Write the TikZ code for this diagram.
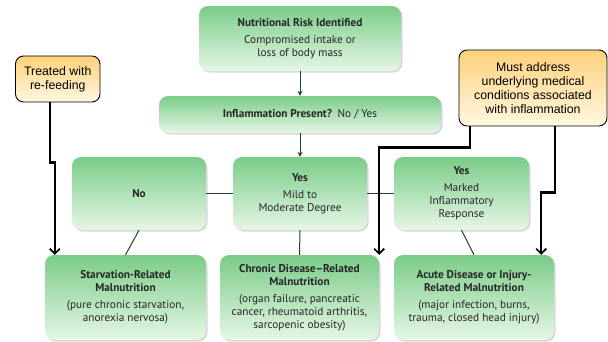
\documentclass[tikz,border=0pt]{standalone}
\usepackage{fontspec}
\setmainfont{Liberation Sans}
\newfontfamily\boxfont{PT Sans}
\usetikzlibrary{shadows, arrows.meta}
\definecolor{boxtop}{RGB}{122,204,136}
\definecolor{boxbottom}{RGB}{230,246,230}
\definecolor{notetop}{RGB}{253,210,122}
\definecolor{notebottom}{RGB}{255,247,226}
\definecolor{linkgreen}{RGB}{28,66,38}

\begin{document}
\begin{tikzpicture}[x=1pt, y=-1pt,
    stage/.style={rectangle, rounded corners=9pt, top color=boxtop, bottom color=boxbottom, drop shadow={shadow xshift=1.5pt, shadow yshift=-1.5pt, opacity=0.3}, text=black!85, align=center, font=\boxfont\fontsize{11.3}{13}\selectfont, inner sep=1pt},
    note/.style={rectangle, rounded corners=8pt, draw=black, line width=0.9pt, top color=notetop, bottom color=notebottom, align=center, font=\fontsize{12.3}{14}\selectfont, inner sep=1pt},
    link/.style={draw=linkgreen, line width=1pt},
    callarrow/.style={line width=2.2pt, line join=miter, -{Straight Barb[length=5pt, width=10pt, line width=1.6pt]}}]
        \useasboundingbox (0,0) rectangle (608,341);

        % --- SCREENING ---
        \node (risk) at (300,38.5) [stage, minimum width=202pt, minimum height=65pt] {\textbf{Nutritional Risk Identified}\\[4pt] Compromised intake or\\ loss of body mass};
        \node (inflam) at (300,114.5) [stage, minimum width=282pt, minimum height=37pt] {\textbf{Inflammation Present?}\enspace No / Yes};

        \draw[link, -{Stealth[length=5pt, width=5pt]}] (risk) -- (inflam);

        % --- DEGREE OF INFLAMMATION ---
        \node (none) at (139,193.5) [stage, minimum width=134pt, minimum height=73pt] {\textbf{No}};
        \node (mild) at (300,193.5) [stage, minimum width=134pt, minimum height=73pt] {\textbf{Yes}\\[4pt] Mild to\\ Moderate Degree};
        \node (marked) at (461.5,193.5) [stage, minimum width=135pt, minimum height=73pt] {\textbf{Yes}\\[4pt] Marked\\ Inflammatory\\ Response};

        \draw[link, -{Stealth[length=5pt, width=5pt]}] (inflam) -- (mild);
        \draw[link] (none) -- (mild);
        \draw[link] (mild) -- (marked);

        % --- DIAGNOSIS ---
        \node (starv) at (125.5,297.5) [stage, minimum width=161pt, minimum height=85pt] {\textbf{Starvation-Related}\\ \textbf{Malnutrition}\\[4pt] (pure chronic starvation,\\ anorexia nervosa)};
        \node (chronic) at (299.5,297.5) [stage, minimum width=159pt, minimum height=85pt] {\textbf{Chronic Disease–Related}\\ \textbf{Malnutrition}\\[4pt] (organ failure, pancreatic\\ cancer, rheumatoid arthritis,\\ sarcopenic obesity)};
        \node (acute) at (474,297.5) [stage, minimum width=160pt, minimum height=85pt] {\textbf{Acute Disease or Injury-}\\ \textbf{Related Malnutrition}\\[4pt] (major infection, burns,\\ trauma, closed head injury)};

        \draw[link] (none.south) -- (starv.north);
        \draw[link] (mild.south) -- (chronic.north);
        \draw[link] (marked.south) -- (acute.north);

        % --- TREATMENT NOTES ---
        \node (refeed) at (57.75,79) [note, minimum width=84.5pt, minimum height=46pt] {Treated with\\ re-feeding};
        \node (address) at (533,88) [note, minimum width=148pt, minimum height=76pt] {Must address\\ underlying medical\\ conditions associated\\ with inflammation};

        \draw[callarrow] ([xshift=-8pt]refeed.south) -- ++(0,60) -| ([xshift=10pt]starv.north west);
        \draw[callarrow] ([xshift=-63pt]address.south) -- ++(0,21) -| (chronic.north east);
        \draw[callarrow] ([xshift=22pt]address.south) -- ++(0,66) -| ([xshift=-13pt]acute.north east);
    \end{tikzpicture}
\end{document}
